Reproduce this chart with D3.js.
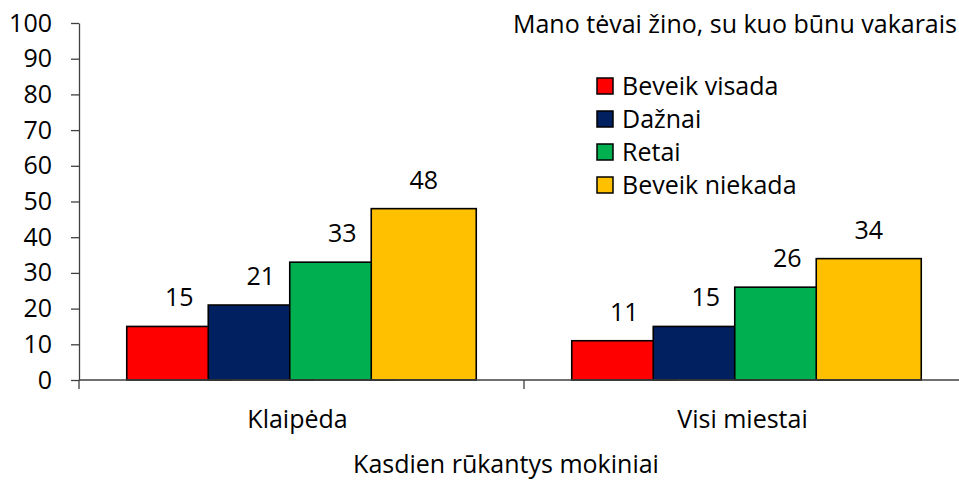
<!DOCTYPE html>
<html>
<head>
<meta charset="utf-8">
<script src="https://cdn.jsdelivr.net/npm/d3@7"></script>
<style>
  body { margin: 0; background: #fff; }
  text { font-family: "Open Sans", sans-serif; fill: #000; }
</style>
</head>
<body>
<svg width="959" height="482"></svg>
<script>
// data
const categories = ["Klaipėda", "Visi miestai"];
const series = ["Beveik visada", "Dažnai", "Retai", "Beveik niekada"];
const colors = ["#ff0000", "#002060", "#00b050", "#ffc000"];
const values = {
  "Klaipėda": [15, 21, 33, 48],
  "Visi miestai": [11, 15, 26, 34]
};
const yTicks = [0, 10, 20, 30, 40, 50, 60, 70, 80, 90, 100];
const title = "Mano tėvai žino, su kuo būnu vakarais";
const xTitle = "Kasdien rūkantys mokiniai";

const svg = d3.select("svg");
const fs = 25;

const x = d3.scaleBand().domain(categories).range([79, 969]).padding(0);
const y = d3.scaleLinear().domain([0, 100]).range([380, 23]);

// bars overlap each other like in the original
const barW = 105;
const step = 81.5;

const rows = [];
categories.forEach(c => {
  values[c].forEach((v, i) => rows.push({ cat: c, i: i, v: v }));
});
const barX = d => x(d.cat) + x.bandwidth() / 2 + (d.i - 1.5) * step - barW / 2;

// y axis
const yAxis = svg.append("g")
  .attr("transform", "translate(79,0)")
  .call(d3.axisLeft(y).tickValues(yTicks).tickSize(8).tickPadding(19).tickSizeOuter(0));
yAxis.select(".domain").attr("stroke", "#404040").attr("stroke-width", 1.3);
yAxis.selectAll(".tick line").attr("stroke", "#404040").attr("stroke-width", 1.3);
yAxis.selectAll(".tick text").style("font-size", fs + "px").attr("font-family", null);

// bars
svg.selectAll("rect.bar")
  .data(rows)
  .enter()
  .append("rect")
  .attr("class", "bar")
  .attr("x", barX)
  .attr("y", d => y(d.v))
  .attr("width", barW)
  .attr("height", d => y(0) - y(d.v))
  .attr("fill", d => colors[d.i])
  .attr("stroke", "#000")
  .attr("stroke-width", 1.6);

// x axis
svg.append("line")
  .attr("x1", 79).attr("x2", 969)
  .attr("y1", y(0)).attr("y2", y(0))
  .attr("stroke", "#404040").attr("stroke-width", 1.3);
svg.selectAll("line.xtick")
  .data([79, x("Visi miestai")])
  .enter()
  .append("line")
  .attr("x1", d => d).attr("x2", d => d)
  .attr("y1", y(0)).attr("y2", y(0) + 9)
  .attr("stroke", "#404040").attr("stroke-width", 1.3);

svg.selectAll("text.cat")
  .data(categories)
  .enter()
  .append("text")
  .attr("x", d => x(d) + x.bandwidth() / 2 - 4)
  .attr("y", 428)
  .attr("text-anchor", "middle")
  .style("font-size", fs + "px")
  .text(d => d);

// value labels
svg.selectAll("text.val")
  .data(rows)
  .enter()
  .append("text")
  .attr("x", d => barX(d) + barW / 2)
  .attr("y", d => y(d.v) - 20)
  .attr("text-anchor", "middle")
  .style("font-size", fs + "px")
  .text(d => d.v);

// titles
svg.append("text")
  .attr("x", 957).attr("y", 33)
  .attr("text-anchor", "end")
  .style("font-size", fs + "px")
  .text(title);

svg.append("text")
  .attr("x", 506).attr("y", 473)
  .attr("text-anchor", "middle")
  .style("font-size", fs + "px")
  .text(xTitle);

// legend
const legend = svg.selectAll("g.leg")
  .data(series)
  .enter()
  .append("g")
  .attr("transform", (d, i) => `translate(597,${86 + i * 33})`);
legend.append("rect")
  .attr("x", 0).attr("y", -8)
  .attr("width", 16).attr("height", 16)
  .attr("fill", (d, i) => colors[i])
  .attr("stroke", "#000").attr("stroke-width", 1.5);
legend.append("text")
  .attr("x", 25).attr("y", 0).attr("dy", "0.35em")
  .style("font-size", fs + "px")
  .text(d => d);
</script>
</body>
</html>
